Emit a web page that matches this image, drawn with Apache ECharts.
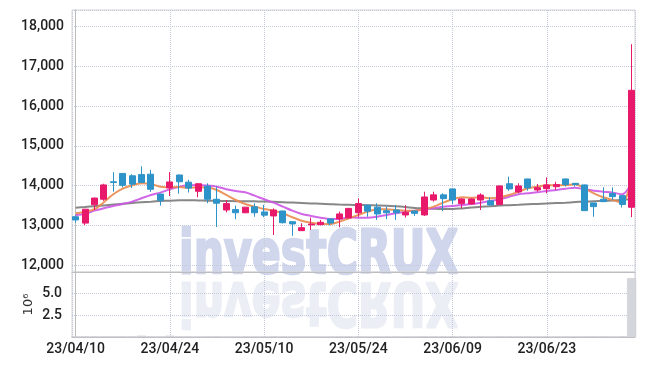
<!DOCTYPE html>
<html><head><meta charset="utf-8">
<script src="https://cdn.jsdelivr.net/npm/echarts@6/dist/echarts.min.js"></script>
<style>html,body{margin:0;padding:0;background:#fff}#c{width:645px;height:366px}</style>
</head><body><div id="c"></div>
<script>
var dates = ['23/04/10','23/04/11','23/04/12','23/04/13','23/04/14','23/04/17','23/04/18','23/04/19','23/04/20','23/04/21','23/04/24','23/04/25','23/04/26','23/04/27','23/04/28','23/05/02','23/05/03','23/05/04','23/05/08','23/05/09','23/05/10','23/05/11','23/05/12','23/05/15','23/05/16','23/05/17','23/05/18','23/05/19','23/05/22','23/05/23','23/05/24','23/05/25','23/05/26','23/05/30','23/05/31','23/06/01','23/06/02','23/06/05','23/06/07','23/06/08','23/06/09','23/06/12','23/06/13','23/06/14','23/06/15','23/06/16','23/06/19','23/06/20','23/06/21','23/06/22','23/06/23','23/06/26','23/06/27','23/06/28','23/06/29','23/06/30','23/07/03','23/07/04','23/07/05','23/07/06'];
var openP = [13220,13060,13520,13660,14100,14310,14250,14280,14290,13790,13945,14270,14090,13860,13990,13660,13390,13400,13320,13470,13340,13240,13365,13095,12870,13015,13020,13165,13165,13190,13320,13510,13460,13370,13390,13265,13365,13265,13640,13770,13920,13550,13540,13640,13620,13525,14050,13843,14170,13893,13926,13976,14170,14060,14020,13566,13660,13805,13750,13458];
var closeP = [13140,13410,13690,14020,14080,14010,14040,14080,13910,13630,14095,14100,13940,14050,13660,13560,13550,13320,13460,13320,13260,13390,13070,13040,12945,13035,13080,13060,13290,13430,13550,13360,13290,13320,13320,13330,13305,13717,13770,13675,13640,13667,13667,13767,13516,13995,13920,13994,13945,13951,14020,14028,14028,14030,13373,13474,13600,13725,13530,16400];
var lowP = [13070,13010,13390,13620,13850,13960,13940,14070,13845,13500,13740,13800,13830,13710,13560,12960,13330,13160,13310,13220,13210,12760,13050,12740,12860,12890,13005,13005,12955,13180,13220,13220,13140,13160,13140,13200,13240,13240,13600,13365,13540,13430,13530,13390,13500,13520,13870,13810,13875,13850,13810,13893,13980,13980,13370,13220,13590,13640,13450,13210];
var highP = [13260,13410,13700,14050,14340,14320,14290,14490,14400,13800,14340,14280,14150,14060,14060,13975,13640,13500,13470,13560,13520,13430,13370,13100,13056,13200,13140,13170,13350,13440,13680,13520,13560,13470,13510,13510,13370,13850,13850,13810,13925,13680,13680,13810,13710,14000,14230,14060,14175,14045,14210,14100,14175,14070,14030,13570,13960,13960,13760,17560];
var ma5 = [13307,13348,13408,13584,13785,13926,14011,14061,14044,13976,13960,13965,13950,13960,13955,13893,13767,13641,13541,13474,13415,13373,13307,13207,13121,13071,13038,13038,13096,13181,13265,13348,13408,13408,13390,13373,13373,13408,13474,13574,13659,13709,13700,13710,13684,13709,13767,13850,13936,13976,14011,14011,14019,14036,13936,13810,13709,13641,13574,14162];
var ma10 = [13265,13290,13373,13433,13491,13541,13600,13684,13767,13826,13911,13976,14011,14019,14005,13976,13911,13868,13835,13750,13659,13574,13474,13373,13290,13240,13197,13164,13164,13200,13197,13197,13222,13265,13307,13348,13373,13408,13433,13474,13491,13516,13541,13574,13617,13659,13725,13785,13810,13835,13868,13893,13926,13951,13911,13876,13850,13826,13785,14061];
var maSlow = [13448,13465,13485,13505,13525,13545,13565,13585,13600,13615,13625,13632,13635,13630,13625,13620,13615,13612,13610,13607,13604,13595,13585,13575,13565,13555,13545,13535,13525,13520,13515,13510,13505,13499,13485,13465,13440,13430,13422,13416,13415,13430,13450,13470,13485,13500,13512,13522,13533,13543,13553,13563,13574,13588,13600,13612,13620,13630,13645,13659];
var volume = [30000,45000,52000,38000,60000,41000,35000,150000,48000,33000,150000,42000,36000,28000,40000,55000,31000,27000,34000,29000,26000,47000,38000,30000,35000,22000,25000,28000,33000,37000,44000,30000,26000,24000,29000,27000,23000,50000,41000,36000,45000,33000,30000,38000,32000,52000,46000,35000,40000,30000,37000,31000,34000,28000,55000,43000,36000,32000,48000,6700000];

var FONT = 'Roboto, "Liberation Sans", sans-serif';
var n = dates.length;
function pairs(arr){ return arr.map(function(v,i){ return [i, v]; }); }
var candle = dates.map(function(d,i){ return [i, openP[i], closeP[i], lowP[i], highP[i]]; });
var gridLine = {show:true, lineStyle:{color:'#c5c9dc', type:'dotted', width:1}};
var xCommon = {type:'value', min:-0.38, max:n-1+0.36, splitNumber:6, axisTick:{show:false}};
var labelStyle = {color:'#222', fontFamily:FONT, fontSize:14, fontWeight:500};

var chart = echarts.init(document.getElementById('c'), null, {renderer:'canvas'});
chart.setOption({
  animation:false,
  backgroundColor:'#fff',
  graphic:[
    {type:'text', x:179, y:227, scaleX:0.70, z:-10, silent:true,
     style:{text:'investCRUX', font:'bold 61px "DejaVu Sans", sans-serif', fill:'#d0d6ec',
            stroke:'#d0d6ec', lineWidth:2.5}},
    {type:'text', x:179, y:329, scaleX:0.70, scaleY:-1, z:-10, silent:true,
     style:{text:'investCRUX', font:'bold 61px "DejaVu Sans", sans-serif', fill:'#eceef5',
            stroke:'#eceef5', lineWidth:2.5}}
  ],
  grid:[
    {left:72, right:10, top:10, height:262, show:true, borderColor:'#d4d4d8', borderWidth:1, backgroundColor:'transparent'},
    {left:72, right:10, top:272, height:65, show:true, borderColor:'#d4d4d8', borderWidth:1, backgroundColor:'transparent'}
  ],
  xAxis:[
    Object.assign({}, xCommon, {gridIndex:0, axisLabel:{show:false}, axisLine:{show:true, lineStyle:{color:'#bdbdc2'}}, splitLine:gridLine}),
    Object.assign({}, xCommon, {gridIndex:1,
      axisLine:{show:true, lineStyle:{color:'#bdbdc2'}},
      splitLine:gridLine,
      axisLabel:Object.assign({show:true, showMinLabel:false, showMaxLabel:false, margin:5,
        formatter:function(v){ var k=Math.round(v); return (Math.abs(v-k)<1e-6 && dates[k]) ? dates[k] : ''; }}, labelStyle)})
  ],
  yAxis:[
    {type:'value', gridIndex:0, min:11830, max:18420, splitNumber:6, scale:true,
     axisLine:{show:true, lineStyle:{color:'#bdbdc2'}}, axisTick:{show:false}, splitLine:gridLine,
     axisLabel:Object.assign({showMinLabel:false, showMaxLabel:false, margin:8,
       formatter:function(v){ return v.toLocaleString('en-US'); }}, labelStyle)},
    {type:'value', gridIndex:1, min:0, max:7400000, interval:2500000,
     name:'10\u2076', nameLocation:'middle', nameGap:37, nameRotate:90, nameMoveOverlap:false,
     nameTextStyle:{color:'#333', fontFamily:'"DejaVu Sans", sans-serif', fontSize:13},
     axisLine:{show:true, lineStyle:{color:'#bdbdc2'}}, axisTick:{show:false}, splitLine:gridLine,
     axisLabel:Object.assign({showMinLabel:false, showMaxLabel:false, margin:10,
       formatter:function(v){ return (v/1e6).toFixed(1); }}, labelStyle)}
  ],
  series:[
    {type:'candlestick', xAxisIndex:0, yAxisIndex:0, data:candle, encode:{x:0, y:[1,2,3,4]}, barWidth:6.5, z:5,
     itemStyle:{color:'#e8196b', color0:'#2e93c8', borderColor:'#e8196b', borderColor0:'#2e93c8', borderWidth:1}},
    {type:'line', xAxisIndex:0, yAxisIndex:0, data:pairs(maSlow), showSymbol:false, smooth:0.3, z:3,
     lineStyle:{color:'#7a7a7a', width:2, opacity:0.9}},
    {type:'line', xAxisIndex:0, yAxisIndex:0, data:pairs(ma10), showSymbol:false, smooth:0.3, z:3,
     lineStyle:{color:'#cc55e6', width:2, opacity:0.9}},
    {type:'line', xAxisIndex:0, yAxisIndex:0, data:pairs(ma5), showSymbol:false, smooth:0.3, z:3,
     lineStyle:{color:'#ea8a4e', width:2, opacity:0.9}},
    {type:'bar', xAxisIndex:1, yAxisIndex:1, data:pairs(volume), barWidth:9,
     itemStyle:{color:'#d5d5dc', borderColor:'#c8c8d0', borderWidth:0.5}}
  ]
});
</script></body></html>
